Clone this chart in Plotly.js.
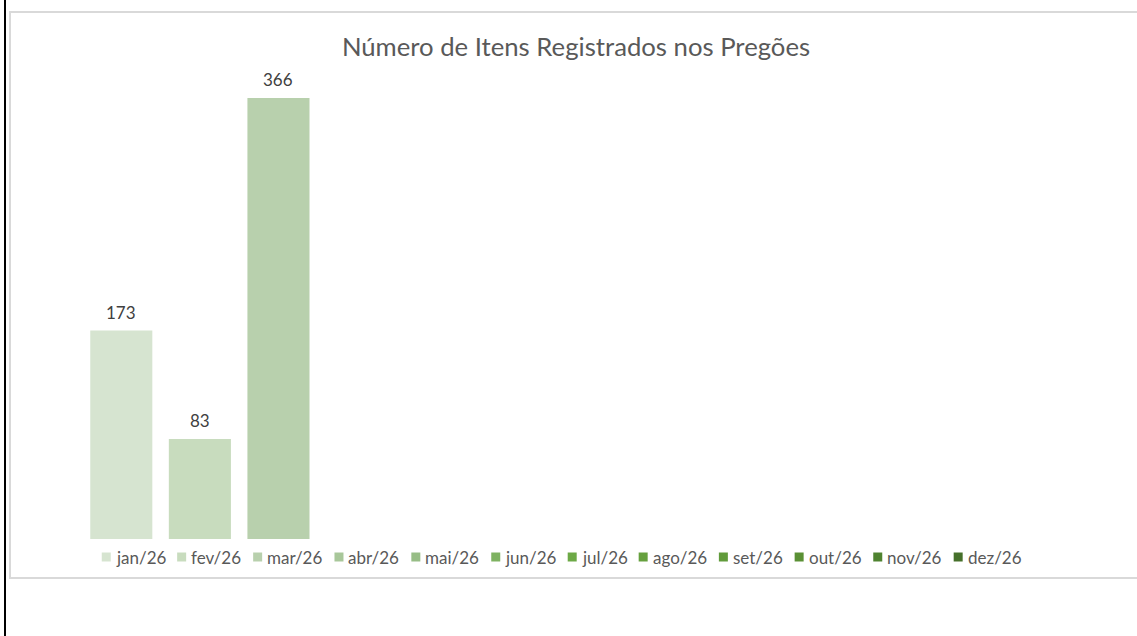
<!DOCTYPE html>
<html>
<head>
<meta charset="utf-8">
<script src="https://cdn.plot.ly/plotly-3.0.1.min.js"></script>
<style>
  html, body { margin: 0; padding: 0; background: #ffffff; overflow: hidden; width: 1137px; height: 636px; }
  #edge { position: absolute; left: 4px; top: 0; width: 2px; height: 636px; background: #000000; }
  #frame { position: absolute; left: 9px; top: 11px; width: 1134px; height: 568px; box-sizing: border-box; border: 2px solid #d9d9d9; }
  #chart { width: 1130px; height: 564px; }
</style>
</head>
<body>
<div id="edge"></div>
<div id="frame"><div id="chart"></div></div>
<script>
// ---- data ----
const months = ['jan/26', 'fev/26', 'mar/26', 'abr/26', 'mai/26', 'jun/26',
                'jul/26', 'ago/26', 'set/26', 'out/26', 'nov/26', 'dez/26'];
const values = [173, 83, 366, null, null, null, null, null, null, null, null, null];
const titleText = 'Número de Itens Registrados nos Pregões';

// ---- style ----
const palette = ['#d6e4d0', '#c8dcbe', '#b8d0ad', '#a8c79a', '#97bd86', '#7eb261',
                 '#6da946', '#66a03e', '#619b3b', '#5a9035', '#4f8330', '#46702b'];
const FONT = 'Lato, "Open Sans", sans-serif';
const W = 1130, H = 564;
const M = { l: 71, r: W - 1014, t: 44, b: H - 526 };
const plotW = W - M.l - M.r, plotH = H - M.t - M.b;

const traces = months.map((m, i) => ({
  type: 'bar',
  name: m,
  x: [m],
  y: [values[i]],
  width: 0.79,
  marker: { color: palette[i] },
  showlegend: false,
  hoverinfo: 'x+y'
}));

// data labels
const annotations = [];
months.forEach((m, i) => {
  if (values[i] !== null && values[i] !== undefined) {
    annotations.push({
      x: m, y: values[i], xref: 'x', yref: 'y',
      text: String(values[i]), showarrow: false,
      yanchor: 'bottom', yshift: 6,
      font: { family: FONT, size: 17, color: '#404040' }
    });
  }
});

// custom legend (Excel-style compact entries), centred
const legendFontSize = 17;
const ctx = document.createElement('canvas').getContext('2d');
ctx.font = legendFontSize + 'px Lato';
const sq = 9, sqGap = 4, itemGap = 13;
const textW = months.map(m => ctx.measureText(m).width);
const total = textW.reduce((a, w) => a + sq + sqGap + w, 0) + itemGap * (months.length - 1);
const legendCenterPx = 550 - M.l;          // centre inside plot area (px)
const legendYpx = 544 - M.t;               // vertical centre (px from top of plot area)
let cursor = legendCenterPx - total / 2;
const shapes = [];
const toX = px => px / plotW;
const toY = py => 1 - py / plotH;
months.forEach((m, i) => {
  shapes.push({
    type: 'rect', xref: 'paper', yref: 'paper',
    x0: toX(cursor), x1: toX(cursor + sq),
    y0: toY(legendYpx + sq / 2), y1: toY(legendYpx - sq / 2),
    fillcolor: palette[i], line: { width: 0 }
  });
  annotations.push({
    x: toX(cursor + sq + sqGap), y: toY(legendYpx), xref: 'paper', yref: 'paper',
    xanchor: 'left', yanchor: 'middle', showarrow: false, text: m,
    borderpad: 0,
    font: { family: FONT, size: legendFontSize, color: '#595959' }
  });
  cursor += sq + sqGap + textW[i] + itemGap;
});

const layout = {
  width: W, height: H,
  margin: M,
  paper_bgcolor: '#ffffff', plot_bgcolor: '#ffffff',
  barmode: 'overlay',
  title: {
    text: titleText,
    x: 0.5, xanchor: 'center', y: 1 - 34 / H, yanchor: 'middle', yref: 'container',
    font: { family: FONT, size: 25.7, color: '#595959' }
  },
  xaxis: { type: 'category', categoryorder: 'array', categoryarray: months,
           range: [-0.5, 11.5], visible: false, fixedrange: true },
  yaxis: { range: [0, 400], visible: false, fixedrange: true },
  showlegend: false,
  annotations: annotations,
  shapes: shapes,
  font: { family: FONT }
};

Plotly.newPlot('chart', traces, layout, { displayModeBar: false, staticPlot: true });
</script>
</body>
</html>
